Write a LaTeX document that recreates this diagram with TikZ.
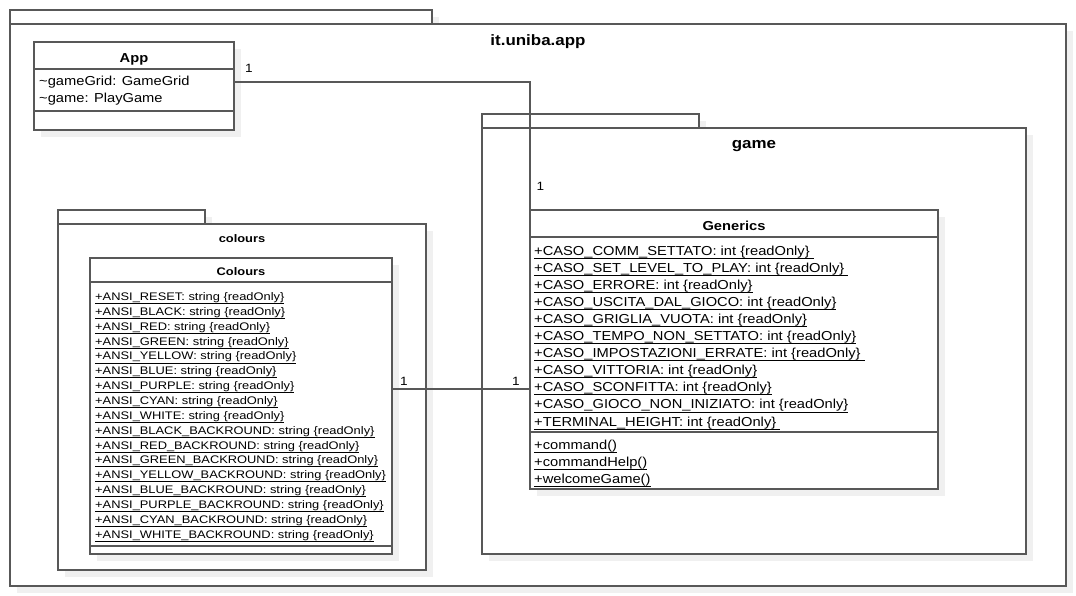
\documentclass[tikz,border=0pt]{standalone}
\usepackage{fontspec}
\setmainfont{Liberation Sans}
\newfontfamily\umlf[FakeStretch=1.13]{Liberation Sans}
\newfontfamily\umls[FakeStretch=1.17]{Liberation Sans}
\usetikzlibrary{shadows}
\definecolor{linec}{RGB}{88,88,88}
\definecolor{shadc}{RGB}{240,240,240}
\newcommand\ulx[1]{\setbox0=\hbox{#1}\rlap{\vrule width\wd0 height -2.6pt depth 3.4pt}\box0}
\begin{document}
\begin{tikzpicture}[x=1pt,y=-1pt,
  umlbox/.style={draw=linec, line width=1.1pt, fill=white, inner sep=0pt, outer sep=0pt, anchor=north west,
    general shadow={shadow xshift=7pt, shadow yshift=-7pt, fill=shadc}},
  sepline/.style={draw=linec, line width=1.1pt},
  conn/.style={draw=linec, line width=1.1pt},
  bigtitle/.style={inner sep=0pt, anchor=base, font=\umlf\bfseries\fontsize{15}{18}\selectfont},
  ctitle/.style={inner sep=0pt, anchor=base, font=\umlf\bfseries\fontsize{13}{16}\selectfont},
  stitle/.style={inner sep=0pt, anchor=base, font=\umls\bfseries\fontsize{11}{13}\selectfont},
  gtext/.style={inner sep=0pt, anchor=base west, font=\umlf\fontsize{13}{16}\selectfont},
  stext/.style={inner sep=0pt, anchor=base west, font=\umls\fontsize{11}{13}\selectfont},
  mult/.style={inner sep=0pt, anchor=base west, font=\umlf\fontsize{12}{14}\selectfont}]
\useasboundingbox[fill=white] (0,0) rectangle (1076,596);

% outer package it.uniba.app
\node[umlbox, minimum width=422pt, minimum height=14pt] (ptab) at (10,10) {};
\node[umlbox, minimum width=1056pt, minimum height=562pt] (pbody) at (10,24) {};
\node[bigtitle] (ptitle) at (538,45.5) {it.uniba.app};

% App class
\node[umlbox, minimum width=200pt, minimum height=88pt] (app) at (34,42) {};
\draw[sepline] (app.west |- 0,69) -- (app.east |- 0,69);
\draw[sepline] (app.west |- 0,111) -- (app.east |- 0,111);
\node[ctitle] (apptitle) at (134,63) {App};
\node[gtext] (appa1) at (39,86) {\textasciitilde gameGrid: GameGrid};
\node[gtext] (appa2) at (39,103) {\textasciitilde game: PlayGame};

% colours package
\node[umlbox, minimum width=147pt, minimum height=14pt] (ctab) at (58,210) {};
\node[umlbox, minimum width=368pt, minimum height=346pt] (cbody) at (58,224) {};
\node[stitle] (ctitle) at (242,242.5) {colours};

% Colours class
\node[umlbox, minimum width=302pt, minimum height=296pt] (cls) at (90,258) {};
\draw[sepline] (cls.west |- 0,282) -- (cls.east |- 0,282);
\draw[sepline] (cls.west |- 0,546) -- (cls.east |- 0,546);
\node[stitle] (clstitle) at (241,275) {Colours};
\foreach \t [count=\i from 0] in {
  +ANSI\_RESET: string \{readOnly\},
  +ANSI\_BLACK: string \{readOnly\},
  +ANSI\_RED: string \{readOnly\},
  +ANSI\_GREEN: string \{readOnly\},
  +ANSI\_YELLOW: string \{readOnly\},
  +ANSI\_BLUE: string \{readOnly\},
  +ANSI\_PURPLE: string \{readOnly\},
  +ANSI\_CYAN: string \{readOnly\},
  +ANSI\_WHITE: string \{readOnly\},
  +ANSI\_BLACK\_BACKROUND: string \{readOnly\},
  +ANSI\_RED\_BACKROUND: string \{readOnly\},
  +ANSI\_GREEN\_BACKROUND: string \{readOnly\},
  +ANSI\_YELLOW\_BACKROUND: string \{readOnly\},
  +ANSI\_BLUE\_BACKROUND: string \{readOnly\},
  +ANSI\_PURPLE\_BACKROUND: string \{readOnly\},
  +ANSI\_CYAN\_BACKROUND: string \{readOnly\},
  +ANSI\_WHITE\_BACKROUND: string \{readOnly\}}
  \node[stext] (ca\i) at (95,{300.5+14.85*\i}) {\ulx{\t}};

% game package
\node[umlbox, minimum width=217pt, minimum height=14pt] (gtab) at (482,114) {};
\node[umlbox, minimum width=544pt, minimum height=426pt] (gbody) at (482,128) {};
\node[bigtitle] (gtitle) at (754,148.5) {game};

% Generics class
\node[umlbox, minimum width=408pt, minimum height=279pt] (gen) at (530,210) {};
\draw[sepline] (gen.west |- 0,237) -- (gen.east |- 0,237);
\draw[sepline] (gen.west |- 0,432) -- (gen.east |- 0,432);
\node[ctitle] (gentitle) at (734,230) {Generics};
\foreach \t [count=\i from 0] in {
  +CASO\_COMM\_SETTATO: int \{readOnly\}~,
  +CASO\_SET\_LEVEL\_TO\_PLAY: int \{readOnly\}~,
  +CASO\_ERRORE: int \{readOnly\},
  +CASO\_USCITA\_DAL\_GIOCO: int \{readOnly\},
  +CASO\_GRIGLIA\_VUOTA: int \{readOnly\},
  +CASO\_TEMPO\_NON\_SETTATO: int \{readOnly\},
  +CASO\_IMPOSTAZIONI\_ERRATE: int \{readOnly\}~,
  +CASO\_VITTORIA: int \{readOnly\},
  +CASO\_SCONFITTA: int \{readOnly\},
  +CASO\_GIOCO\_NON\_INIZIATO: int \{readOnly\},
  +TERMINAL\_HEIGHT: int \{readOnly\}~}
  \node[gtext] (ga\i) at (534,{255+17.1*\i}) {\ulx{\t}};
\foreach \t [count=\i from 0] in {+command(), +commandHelp(), +welcomeGame()}
  \node[gtext] (gm\i) at (534,{449.3+17.1*\i}) {\ulx{\t}};

% connectors
\draw[conn] ([yshift=4pt]app.east) -| (gen.north west);
\draw[conn] ([yshift=17pt]cls.east) -- ([yshift=17pt]cls.east -| gen.west);
\node[mult] (m1) at (245,73) {1};
\node[mult] (m2) at (536.5,190.5) {1};
\node[mult] (m3) at (400,385) {1};
\node[mult] (m4) at (512,385) {1};
\end{tikzpicture}
\end{document}
